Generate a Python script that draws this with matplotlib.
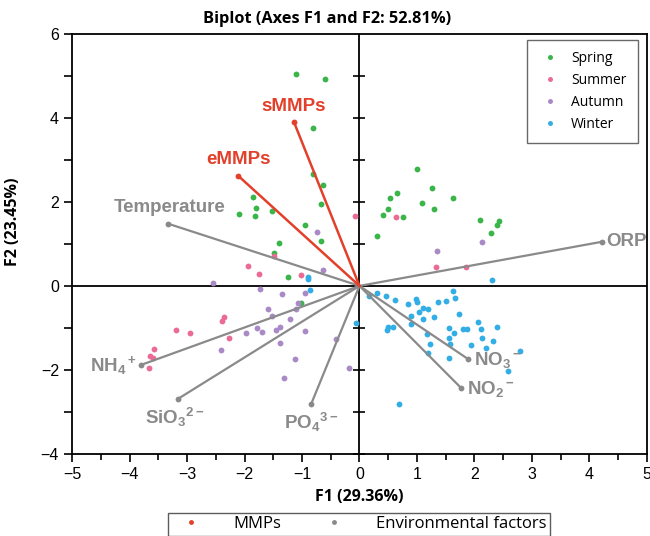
import numpy as np
import matplotlib
matplotlib.use('Agg')
import matplotlib.pyplot as plt
from matplotlib.lines import Line2D

plt.rcParams['mathtext.default'] = 'regular'

# ---------------- data ----------------
spring_x = [-1.10, -0.60, -0.80, -0.81, -0.64, -1.86, -1.80, -2.10, -1.82, -1.52, -0.67, -0.95,
            -0.67, -1.40, -1.48, -1.25, -1.02, 1.01, 1.27, 0.66, 0.54, 1.62, 1.09, 0.49, 1.30,
            0.41, 0.76, 2.10, 2.43, 2.39, 2.29, 0.30]
spring_y = [5.04, 4.93, 3.75, 2.67, 2.40, 2.12, 1.85, 1.72, 1.67, 1.79, 1.96, 1.44,
            1.08, 1.02, 0.79, 0.21, -0.41, 2.79, 2.33, 2.20, 2.10, 2.10, 1.98, 1.83, 1.82,
            1.68, 1.63, 1.56, 1.54, 1.44, 1.25, 1.19]

summer_x = [-0.07, -1.48, -1.94, -1.75, -1.02, -2.35, -2.40, -3.20, -2.95, -2.27, -3.57, -3.65,
            -3.59, -3.67, 0.63, 1.34, 1.86]
summer_y = [1.67, 0.72, 0.48, 0.28, 0.26, -0.73, -0.83, -1.05, -1.13, -1.23, -1.49, -1.67,
            -1.71, -1.95, 1.64, 0.44, 0.45]

autumn_x = [-0.74, -0.63, -2.55, -1.73, -1.35, -0.95, -1.07, -1.10, -1.60, -1.52, -1.21, -1.97,
            -1.79, -1.70, -1.46, -1.39, -0.95, -1.39, -2.41, -0.40, -1.13, -1.31, -0.19, 1.35, 2.14]
autumn_y = [1.28, 0.37, 0.06, -0.07, -0.19, -0.17, -0.40, -0.55, -0.56, -0.71, -0.79, -1.11,
            -1.01, -1.09, -1.05, -0.98, -1.08, -1.37, -1.53, -1.26, -1.75, -2.18, -1.96, 0.82, 1.04]

winter_x = [-0.90, -0.90, -0.86, -0.06, 2.30, 0.30, 0.46, 0.17, 0.61, 0.85, 0.98, 1.01, 1.36,
            1.51, 1.63, 1.66, 1.73, 1.10, 1.20, 1.03, 0.89, 1.10, 1.30, 0.89, 0.50, 0.58, 0.48,
            1.55, 1.81, 1.87, 2.07, 2.11, 2.40, 1.17, 1.64, 1.56, 2.13, 2.33, 1.23, 1.58, 1.94,
            2.20, 1.20, 1.56, 2.79, 2.59, 0.69]
winter_y = [0.22, 0.16, -0.10, -0.89, 0.14, -0.16, -0.23, -0.24, -0.34, -0.44, -0.32, -0.38, -0.38,
            -0.36, -0.13, -0.29, -0.67, -0.53, -0.56, -0.63, -0.72, -0.79, -0.75, -0.91, -0.98, -0.98, -1.06,
            -1.01, -1.02, -1.02, -0.87, -1.02, -0.98, -1.14, -1.11, -1.23, -1.23, -1.31, -1.38, -1.39, -1.41,
            -1.48, -1.60, -1.71, -1.56, -2.02, -2.81]

mmp_names = ['sMMPs', 'eMMPs']
mmp_x = [-1.14, -2.11]
mmp_y = [3.90, 2.62]

env_names = ['Temperature', 'ORP', 'NH$_4$$^+$', 'SiO$_3$$^{2-}$', 'PO$_4$$^{3-}$', 'NO$_3$$^-$', 'NO$_2$$^-$']
env_x = [-3.33, 4.22, -3.80, -3.16, -0.84, 1.89, 1.77]
env_y = [1.48, 1.05, -1.88, -2.69, -2.81, -1.74, -2.43]

# ---------------- style ----------------
c_spring = '#3ab54a'
c_summer = '#ea6b94'
c_autumn = '#a98ac6'
c_winter = '#33aee5'
c_red = '#e2402a'
c_gray = '#8a8a8a'

fig = plt.figure(figsize=(6.5, 5.36), dpi=100)
ax = fig.add_axes([0.111, 0.153, 0.884, 0.784])

ax.axhline(0, color='black', lw=1.3, zorder=1)
ax.axvline(0, color='black', lw=1.3, zorder=1)
# ticks on the centre vertical axis
yt = np.arange(-4, 6, 1)
ax.plot(np.zeros(len(yt)), yt, ls='none', marker='_', ms=9, mew=1.2, color='black', zorder=1)

ms = 4.2
ax.plot(spring_x, spring_y, 'o', ms=ms, color=c_spring, mec='none', label='Spring', zorder=2)
ax.plot(summer_x, summer_y, 'o', ms=ms, color=c_summer, mec='none', label='Summer', zorder=2)
ax.plot(autumn_x, autumn_y, 'o', ms=ms, color=c_autumn, mec='none', label='Autumn', zorder=2)
ax.plot(winter_x, winter_y, 'o', ms=ms, color=c_winter, mec='none', label='Winter', zorder=2)

for i in range(len(env_x)):
    ax.plot([0, env_x[i]], [0, env_y[i]], color=c_gray, lw=1.6, zorder=3)
    ax.plot(env_x[i], env_y[i], 'o', ms=4.2, color=c_gray, mec='none', zorder=3)
for i in range(len(mmp_x)):
    ax.plot([0, mmp_x[i]], [0, mmp_y[i]], color=c_red, lw=1.8, zorder=4)
    ax.plot(mmp_x[i], mmp_y[i], 'o', ms=4.2, color=c_red, mec='none', zorder=4)

lab = dict(fontweight='bold', fontsize=13.5, family='Liberation Sans')
ax.text(mmp_x[0], mmp_y[0] + 0.36, mmp_names[0], color=c_red, ha='center', va='center', **lab)
ax.text(mmp_x[1], mmp_y[1] + 0.38, mmp_names[1], color=c_red, ha='center', va='center', **lab)
ax.text(env_x[0] + 0.02, env_y[0] + 0.38, env_names[0], color=c_gray, ha='center', va='center', **lab)
ax.text(env_x[1] + 0.08, env_y[1], env_names[1], color=c_gray, ha='left', va='center', **lab)
ax.text(env_x[2] - 0.08, env_y[2] - 0.02, env_names[2], color=c_gray, ha='right', va='center', **lab)
ax.text(env_x[3] - 0.06, env_y[3] - 0.45, env_names[3], color=c_gray, ha='center', va='center', **lab)
ax.text(env_x[4] + 0.0, env_y[4] - 0.45, env_names[4], color=c_gray, ha='center', va='center', **lab)
ax.text(env_x[5] + 0.1, env_y[5] - 0.02, env_names[5], color=c_gray, ha='left', va='center', **lab)
ax.text(env_x[6] + 0.1, env_y[6] - 0.02, env_names[6], color=c_gray, ha='left', va='center', **lab)

ax.set_xlim(-5, 5)
ax.set_ylim(-4, 6)
ax.set_xticks(np.arange(-5, 6, 1))
ax.set_xticks(np.arange(-5, 5.1, 0.5), minor=True)
ax.set_yticks(np.arange(-4, 7, 2))
ax.set_yticks(np.arange(-4, 7, 1), minor=True)
ax.tick_params(which='major', direction='out', length=6, width=1.2, labelsize=11.5)
ax.tick_params(which='minor', direction='out', length=4, width=1.2)
ax.tick_params(axis='y', which='minor', length=6)
for t in ax.get_xticklabels() + ax.get_yticklabels():
    t.set_family('Liberation Sans')
for s in ax.spines.values():
    s.set_linewidth(1.3)

ax.set_xlabel('F1 (29.36%)', fontsize=11.5, fontweight='bold', family='Open Sans', labelpad=5)
ax.set_ylabel('F2 (23.45%)', fontsize=11.5, fontweight='bold', family='Open Sans')
ax.yaxis.set_label_coords(-0.089, 0.552)
fig.text(0.503, 0.965, 'Biplot (Axes F1 and F2: 52.81%)', ha='center', va='center',
         fontsize=11.8, fontweight='bold', family='Open Sans')

leg = ax.legend(loc='upper right', bbox_to_anchor=(0.984, 0.986), borderaxespad=0,
                prop={'family': 'Open Sans', 'size': 10},
                frameon=True, fancybox=False, edgecolor='#444444', markerscale=0.85,
                handlelength=1.8, handletextpad=0.6, borderpad=0.8, labelspacing=0.5)
leg.get_frame().set_linewidth(1.0)

handles = [Line2D([], [], ls='none', marker='o', ms=3.5, color=c_red, mec='none'),
           Line2D([], [], ls='none', marker='o', ms=3.5, color=c_gray, mec='none')]
fleg = fig.legend(handles, ['MMPs', 'Environmental factors'], loc='upper center', ncol=2,
                  bbox_to_anchor=(0.552, 0.043), borderaxespad=0, prop={'family': 'Open Sans', 'size': 12},
                  frameon=True, fancybox=False, edgecolor='#333333', handlelength=2.4,
                  handletextpad=1.3, columnspacing=2.0, borderpad=0.2)
fleg.get_frame().set_linewidth(1.0)

fig.savefig('out.png', dpi=100)
